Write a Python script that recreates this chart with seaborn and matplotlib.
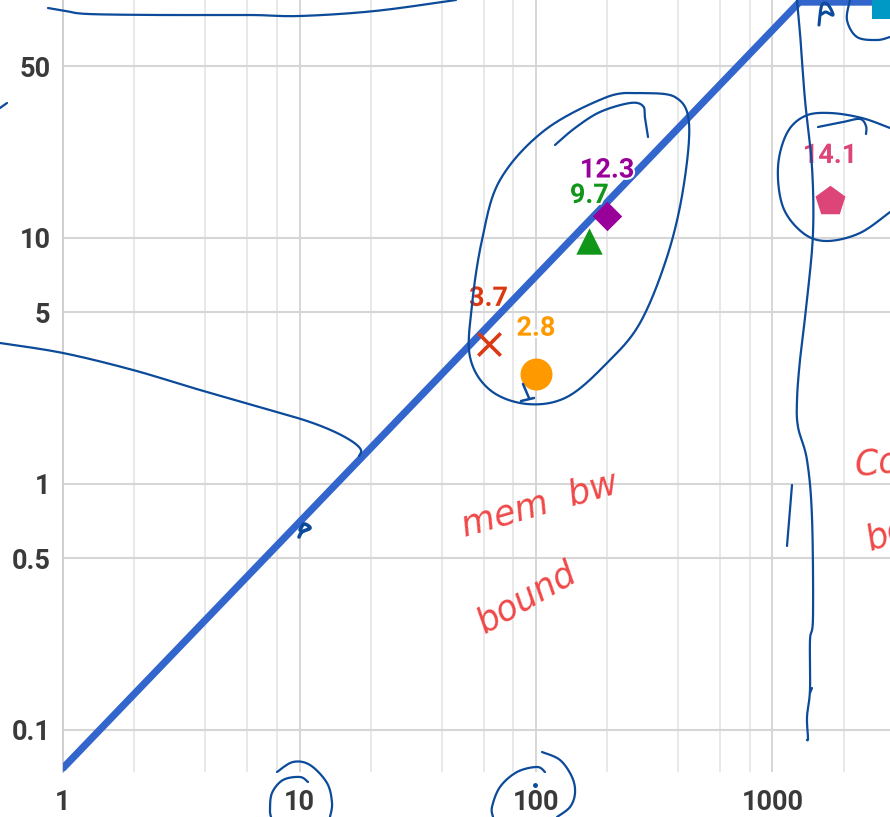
import numpy as np
import pandas as pd
import matplotlib
matplotlib.use("Agg")
import matplotlib.pyplot as plt
import matplotlib.patheffects as pe
from matplotlib.ticker import FixedLocator, NullFormatter
from matplotlib.transforms import Affine2D
import seaborn as sns

# ---- roofline model ----
mem_bandwidth = 0.07      # slope of the memory-bound roof
peak_perf = 91.0          # flat compute roof

# ---- measured kernels ----
intensity = [100, 63, 168, 200, 1750, 3000]
performance = [2.8, 3.7, 9.7, 12.3, 14.1, 88.0]
kernel_colors = ["#ff9900", "#dc3912", "#109618", "#990099", "#dd4477", "#0099c6"]
kernel_markers = ["o", "x", "^", "D", "p", "s"]
kernel_sizes = [530, 260, 360, 225, 515, 360]
show_value = [True, True, True, True, True, False]

x_ticks = [1, 10, 100, 1000]
x_tick_labels = ["1", "10", "100", "1000"]
y_ticks = [0.1, 0.5, 1, 5, 10, 50]
y_tick_labels = ["0.1", "0.5", "1", "5", "10", "50"]

W, H = 890, 817
sns.set_theme(style="white")
plt.rcParams["font.family"] = ["Roboto", "DejaVu Sans"]

fig = plt.figure(figsize=(W / 100, H / 100), dpi=100)
ax = fig.add_axes([63 / W, 45 / H, 827 / W, 772 / H])
ax.set_xscale("log")
ax.set_yscale("log")
x_lo, x_hi = 1.0, 10 ** (827 / 236.5)
y_lo, y_hi = 10 ** (-288 / 246), 10 ** (484 / 246)

# roofline
ridge = peak_perf / mem_bandwidth
roof = pd.DataFrame({
    "intensity": [x_lo, ridge, x_hi * 1.5],
    "perf": [mem_bandwidth * x_lo, peak_perf, peak_perf],
})
sns.lineplot(data=roof, x="intensity", y="perf", color="#3366cc", lw=5.2,
             solid_capstyle="round", ax=ax, zorder=3)

# kernels
for xv, yv, c, m, s, lab in zip(intensity, performance, kernel_colors,
                                kernel_markers, kernel_sizes, show_value):
    if m == "x":
        sns.scatterplot(x=[xv], y=[yv], marker=m, s=s, color=c, linewidth=2.6, ax=ax, zorder=5)
    else:
        sns.scatterplot(x=[xv], y=[yv], marker=m, s=s, color=c, linewidth=0, ax=ax, zorder=5)
    if lab:
        ax.annotate(f"{yv:.1f}", xy=(xv, yv), xytext=(0, 33), textcoords="offset points",
                    ha="center", va="center", fontsize=19.5, fontweight="bold", color=c,
                    zorder=6,
                    path_effects=[pe.withStroke(linewidth=3, foreground="white")])

ax.set_xlim(x_lo, x_hi)
ax.set_ylim(y_lo, y_hi)
ax.set_xlabel("")
ax.set_ylabel("")

# grid and ticks
ax.xaxis.set_major_locator(FixedLocator(x_ticks))
ax.yaxis.set_major_locator(FixedLocator(y_ticks))
minor_x = [m * d for d in (1, 10, 100, 1000) for m in (2, 4, 6, 8)]
ax.xaxis.set_minor_locator(FixedLocator(minor_x))
ax.xaxis.set_minor_formatter(NullFormatter())
ax.yaxis.set_minor_locator(FixedLocator([]))
ax.set_xticklabels(x_tick_labels)
ax.set_yticklabels(y_tick_labels)
ax.grid(True, which="major", axis="x", color="#cfcfcf", lw=1.2, zorder=0)
ax.grid(True, which="minor", axis="x", color="#e4e4e4", lw=1.2, zorder=0)
ax.grid(True, which="major", axis="y", color="#d6d6d6", lw=1.5, zorder=0)
for s in ("top", "right", "bottom"):
    ax.spines[s].set_visible(False)
ax.spines["left"].set_color("#cfcfcf")
ax.spines["left"].set_linewidth(1.4)
ax.tick_params(axis="both", which="both", length=0)
ax.tick_params(axis="x", pad=12, labelsize=19.5, labelcolor="#3a3a3a")
ax.tick_params(axis="y", pad=9, labelsize=19.5, labelcolor="#3a3a3a")
for lab in ax.get_xticklabels() + ax.get_yticklabels():
    lab.set_fontweight("bold")

# ---- ink notes drawn over the chart (pixel space) ----
px = Affine2D().scale(1 / W, -1 / H).translate(0, 1) + fig.transFigure
ink = "#0c4a9a"


def smooth(pts, n=24):
    p = np.asarray(pts, float)
    if len(p) < 3:
        return p
    p = np.vstack([p[0], p, p[-1]])
    out = []
    for i in range(1, len(p) - 2):
        p0, p1, p2, p3 = p[i - 1], p[i], p[i + 1], p[i + 2]
        for t in np.linspace(0, 1, n, endpoint=False):
            t2, t3 = t * t, t * t * t
            out.append(0.5 * ((2 * p1) + (-p0 + p2) * t
                              + (2 * p0 - 5 * p1 + 4 * p2 - p3) * t2
                              + (-p0 + 3 * p1 - 3 * p2 + p3) * t3))
    out.append(p[-2])
    return np.array(out)


def stroke(pts, lw=1.6, color=ink):
    c = smooth(pts)
    fig.add_artist(plt.Line2D(c[:, 0], c[:, 1], transform=px, color=color, lw=lw,
                              solid_capstyle="round", solid_joinstyle="round", zorder=20))


stroke([(48, 8), (66, 11), (88, 14), (160, 15), (250, 15), (300, 16), (375, 11), (456, 0)])
stroke([(0, 108), (7, 103)])
stroke([(0, 343), (63, 353), (133, 370), (200, 390), (277, 412), (310, 422),
        (335, 432), (353, 442), (361, 450), (359, 456)])
stroke([(300, 530), (304, 524), (310, 528), (302, 532), (299, 537)], lw=2.6)
# loop round the memory-bound group
stroke([(640, 93), (607, 97), (545, 130), (500, 180), (482, 240), (472, 305), (470, 357),
        (490, 390), (527, 404), (567, 397), (607, 363), (640, 323), (667, 257),
        (683, 190), (689, 123), (675, 97), (640, 93)])
stroke([(555, 145), (575, 128), (600, 112), (630, 103), (643, 106), (645, 118), (648, 137)])
stroke([(523, 384), (529, 398)], lw=1.8)
stroke([(521, 401), (534, 398)], lw=1.8)
# loop round the pentagon
stroke([(890, 128), (862, 118), (830, 113), (805, 116), (787, 133), (778, 167),
        (783, 207), (803, 233), (827, 241), (860, 233), (890, 212)])
stroke([(818, 127), (843, 122), (860, 119), (866, 126), (866, 134)])
# divider at the ridge point
stroke([(797, 0), (800, 33), (805, 100), (812, 167), (813, 233), (807, 300), (800, 360),
        (797, 400), (798, 427), (807, 460), (812, 517), (813, 617), (810, 640),
        (810, 690), (807, 717), (808, 738), (807, 740)])
stroke([(810, 693), (812, 688)], lw=1.6)
stroke([(792, 485), (787, 546)])
stroke([(819, 25), (821, 8), (824, 3), (829, 6), (833, 15), (826, 12), (822, 14)], lw=2.2)
stroke([(850, 0), (847, 20), (857, 37), (877, 40), (890, 37)])
# circles round the x tick labels
stroke([(277, 772), (293, 762), (310, 765), (327, 783), (332, 803), (330, 817)])
stroke([(308, 782), (300, 777), (283, 780), (272, 793), (270, 810), (271, 817)])
stroke([(542, 752), (560, 760), (572, 777), (575, 793), (570, 807), (557, 817)])
stroke([(545, 772), (537, 767), (517, 772), (500, 787), (492, 807), (493, 817)])
fig.add_artist(plt.Line2D([535], [785], transform=px, marker="o", ms=2.5,
                          color=ink, lw=0, zorder=20))

# handwritten notes
red = "#f04848"
note = dict(transform=px, color=red, fontsize=25, family=["DejaVu Sans"],
            fontweight="light", style="oblique", zorder=21, va="center")
fig.text(540, 505, "mem  bw", rotation=16, ha="center", **note)
fig.text(527, 598, "bound", rotation=30, ha="center", **note)
fig.text(853, 458, "Compute", rotation=6, ha="left", **note)
fig.text(861, 522, "bound", rotation=20, ha="left", **note)

fig.savefig("out.png", dpi=100)
